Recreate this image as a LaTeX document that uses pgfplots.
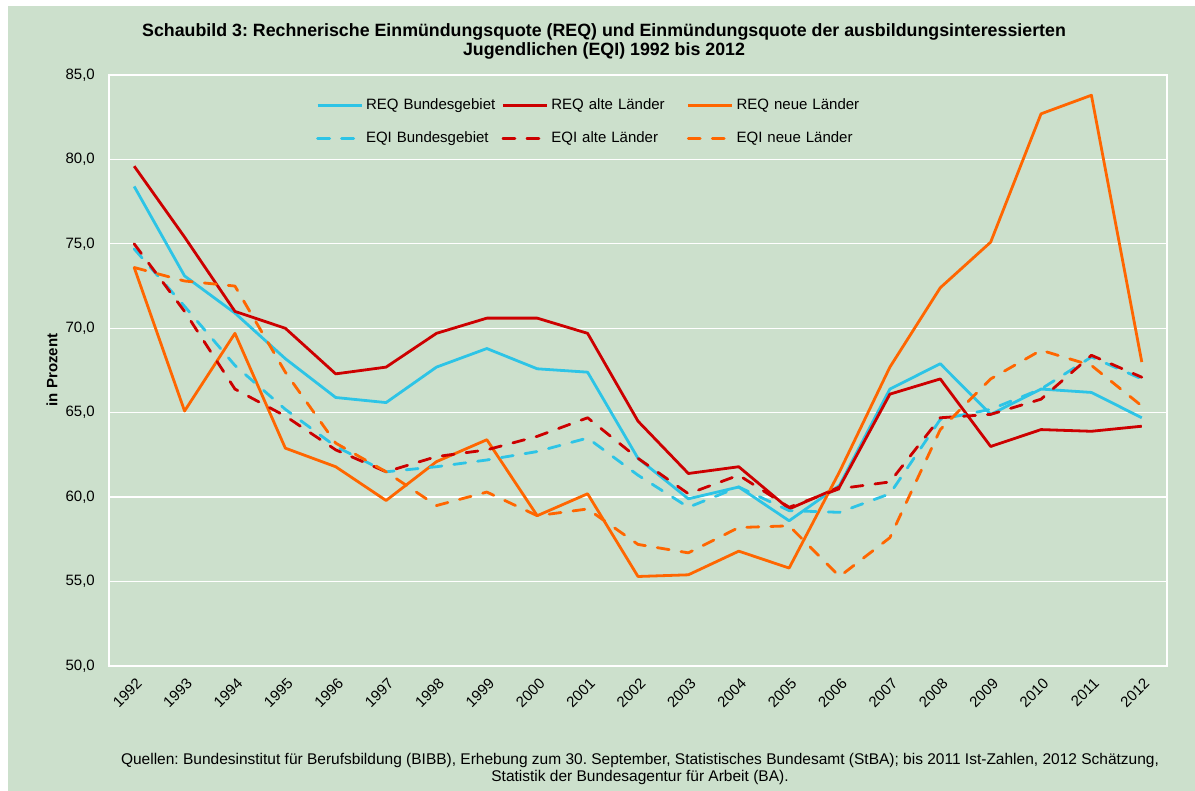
\documentclass[border=0pt]{standalone}
\usepackage{fontspec}
\setmainfont{Liberation Sans}
\usepackage{pgfplots}
\pgfplotsset{compat=1.18}
\frenchspacing
\definecolor{bg}{RGB}{204,224,204}
\definecolor{cy}{RGB}{45,196,230}
\definecolor{rd}{RGB}{204,0,0}
\definecolor{og}{RGB}{255,102,0}
\pgfplotstableread{
x reqb reqa reqn eqib eqia eqin
0  78.4 79.6 73.6 74.7 75.0 73.6
1  73.1 75.4 65.1 71.3 71.0 72.8
2  70.9 71.0 69.7 67.8 66.4 72.5
3  68.2 70.0 62.9 65.2 64.8 67.4
4  65.9 67.3 61.8 63.0 62.8 63.2
5  65.6 67.7 59.8 61.5 61.5 61.5
6  67.7 69.7 62.1 61.8 62.4 59.5
7  68.8 70.6 63.4 62.2 62.8 60.3
8  67.6 70.6 58.9 62.7 63.6 58.9
9  67.4 69.7 60.2 63.5 64.7 59.3
10 62.3 64.5 55.3 61.3 62.3 57.2
11 59.9 61.4 55.4 59.4 60.2 56.7
12 60.6 61.8 56.8 60.6 61.3 58.2
13 58.6 59.3 55.8 59.2 59.4 58.3
14 60.7 60.6 61.5 59.1 60.5 55.3
15 66.4 66.1 67.7 60.2 60.9 57.6
16 67.9 67.0 72.4 64.6 64.7 64.0
17 64.9 63.0 75.1 65.2 64.9 67.0
18 66.4 64.0 82.7 66.4 65.8 68.7
19 66.2 63.9 83.8 68.3 68.4 67.8
20 64.7 64.2 68.0 67.0 67.1 65.4
}\data
\begin{document}
\begin{tikzpicture}[x=1pt,y=1pt]
\useasboundingbox (0,0) rectangle (1195,791);
\fill[white] (0,0) rectangle (1195,791);
\fill[bg] (8,0) rectangle (1195,785);
\begin{axis}[
  at={(109pt,125pt)}, anchor=south west,
  scale only axis, width=1058pt, height=591pt,
  xmin=-0.5, xmax=20.5, ymin=50, ymax=85,
  xtick={0,...,20},
  xticklabels={1992,1993,1994,1995,1996,1997,1998,1999,2000,2001,2002,2003,2004,2005,2006,2007,2008,2009,2010,2011,2012},
  ytick={50,55,...,85},
  ymajorgrids, grid style={white, line width=1.3pt},
  axis line style={white, line width=1.6pt},
  major tick length=0pt,
  tick label style={font=\fontsize{15}{18}\selectfont},
  /pgf/number format/.cd, use comma, fixed, fixed zerofill, precision=1, assume math mode=true,
  /pgfplots/.cd,
  yticklabel style={anchor=east, inner sep=0pt, xshift=-14pt},
  xticklabel style={inner sep=0pt, xshift=5pt, yshift=-15pt, rotate=45, anchor=east},
  legend columns=3,
  legend style={at={(0.1957,0.966)}, anchor=north west, draw=none, fill=none,
    inner sep=0pt, row sep=13pt, cells={anchor=west},
    nodes={inner sep=3pt, text width=131pt, align=left, minimum height=20pt, font=\fontsize{15}{18}\selectfont},
    /tikz/every even column/.append style={column sep=1.5pt}},
  legend image code/.code={\draw[#1] (0pt,0pt) -- (44pt,0pt);},
  every axis plot/.append style={line width=2.8pt, line join=round},
  dsh/.style={dash pattern=on 12pt off 12pt, line cap=round},
]
\addplot[cy] table[x=x,y=reqb]{\data};
\addlegendentry{REQ Bundesgebiet}
\addplot[rd] table[x=x,y=reqa]{\data};
\addlegendentry{REQ alte Länder}
\addplot[og] table[x=x,y=reqn]{\data};
\addlegendentry{REQ neue Länder}
\addplot[cy,dsh] table[x=x,y=eqib]{\data};
\addlegendentry{EQI Bundesgebiet}
\addplot[rd,dsh] table[x=x,y=eqia]{\data};
\addlegendentry{EQI alte Länder}
\addplot[og,dsh] table[x=x,y=eqin]{\data};
\addlegendentry{EQI neue Länder}
\end{axis}
\node[rotate=90, font=\bfseries\fontsize{15}{18}\selectfont] at (52,421) {in Prozent};
\node[align=center, font=\bfseries\fontsize{17.8}{18.5}\selectfont] at (604,749.5) {Schaubild 3: Rechnerische Einmündungsquote (REQ) und Einmündungsquote der ausbildungsinteressierten\\Jugendlichen (EQI) 1992 bis 2012};
\node[align=center, font=\fontsize{15.5}{17}\selectfont] at (640,21.5) {Quellen: Bundesinstitut für Berufsbildung (BIBB), Erhebung zum 30. September, Statistisches Bundesamt (StBA); bis 2011 Ist-Zahlen, 2012 Schätzung,\\Statistik der Bundesagentur für Arbeit (BA).};
\end{tikzpicture}
\end{document}
